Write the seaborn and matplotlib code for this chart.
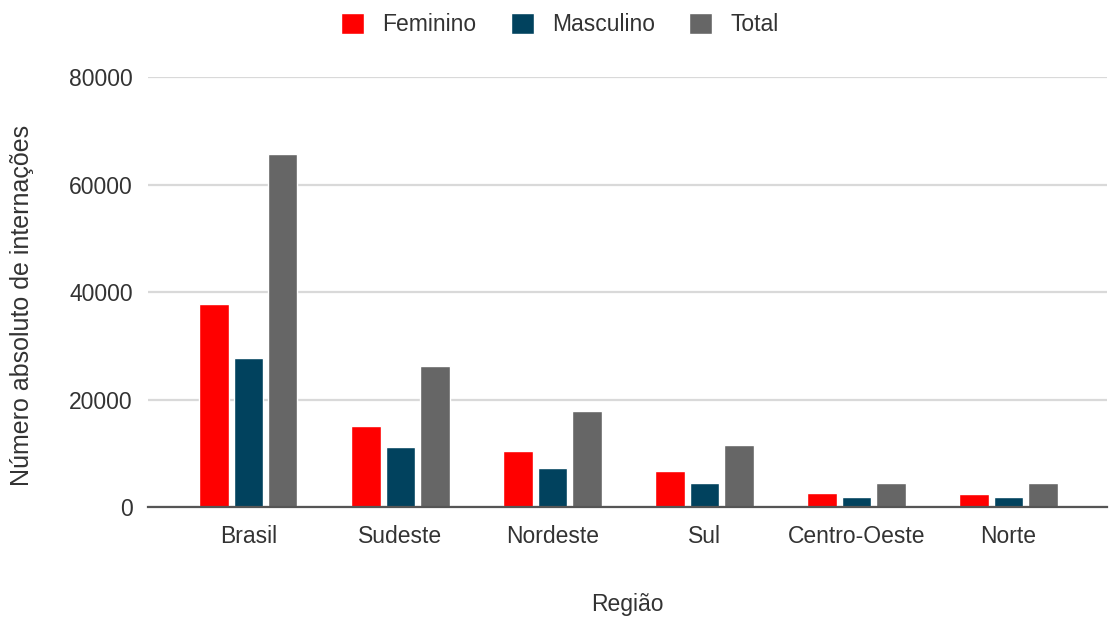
import matplotlib
matplotlib.use("Agg")
import matplotlib.pyplot as plt
import seaborn as sns
import pandas as pd

regioes = ["Brasil", "Sudeste", "Nordeste", "Sul", "Centro-Oeste", "Norte"]
feminino = [37850, 15100, 10400, 6650, 2670, 2370]
masculino = [27750, 11250, 7270, 4550, 1860, 1860]
total = [65700, 26300, 17900, 11500, 4530, 4530]
series = ["Feminino", "Masculino", "Total"]
cores = ["#FF0000", "#01425E", "#666666"]
yticks = [0, 20000, 40000, 60000, 80000]

df = pd.DataFrame({
    "Região": regioes * 3,
    "Valor": feminino + masculino + total,
    "Série": [s for s in series for _ in regioes],
})

sns.set_theme(style="white")
plt.rcParams["font.family"] = ["Liberation Sans", "DejaVu Sans"]

fs = 16.5
fig = plt.figure(figsize=(11.09, 6.17), dpi=100)
ax = fig.add_axes([0.1335, 0.178, 0.865, 0.697])

sns.barplot(data=df, x="Região", y="Valor", hue="Série", order=regioes,
            hue_order=series, palette=cores, width=0.68, gap=0.15,
            saturation=1, ax=ax, legend=True)

ax.set_ylim(0, 80000)
ax.set_xlim(-0.66, 5.65)
ax.set_yticks(yticks)
ax.set_yticklabels([str(v) for v in yticks])
ax.yaxis.grid(True, color="#d9d9d9", linewidth=1.6)
ax.set_axisbelow(True)
for s in ["top", "right", "left"]:
    ax.spines[s].set_visible(False)
ax.spines["bottom"].set_color("#555555")
ax.spines["bottom"].set_linewidth(1.6)
ax.tick_params(axis="both", length=0, labelsize=fs, colors="#333333")
ax.tick_params(axis="x", pad=13)
ax.tick_params(axis="y", pad=11)
ax.set_xlabel("Região", fontsize=fs, color="#333333", labelpad=32)
ax.set_ylabel("Número absoluto de internações", fontsize=18, color="#333333")
ax.yaxis.set_label_coords(-0.119, 0.47)

handles, labels = ax.get_legend_handles_labels()
ax.get_legend().remove()
fig.legend(handles, labels, loc="upper center", bbox_to_anchor=(0.505, 1.012),
           ncol=3, frameon=False, fontsize=fs, handlelength=1.0, handleheight=1.0,
           columnspacing=1.5, handletextpad=0.8, labelcolor="#333333")

fig.savefig("out.png", dpi=100)
